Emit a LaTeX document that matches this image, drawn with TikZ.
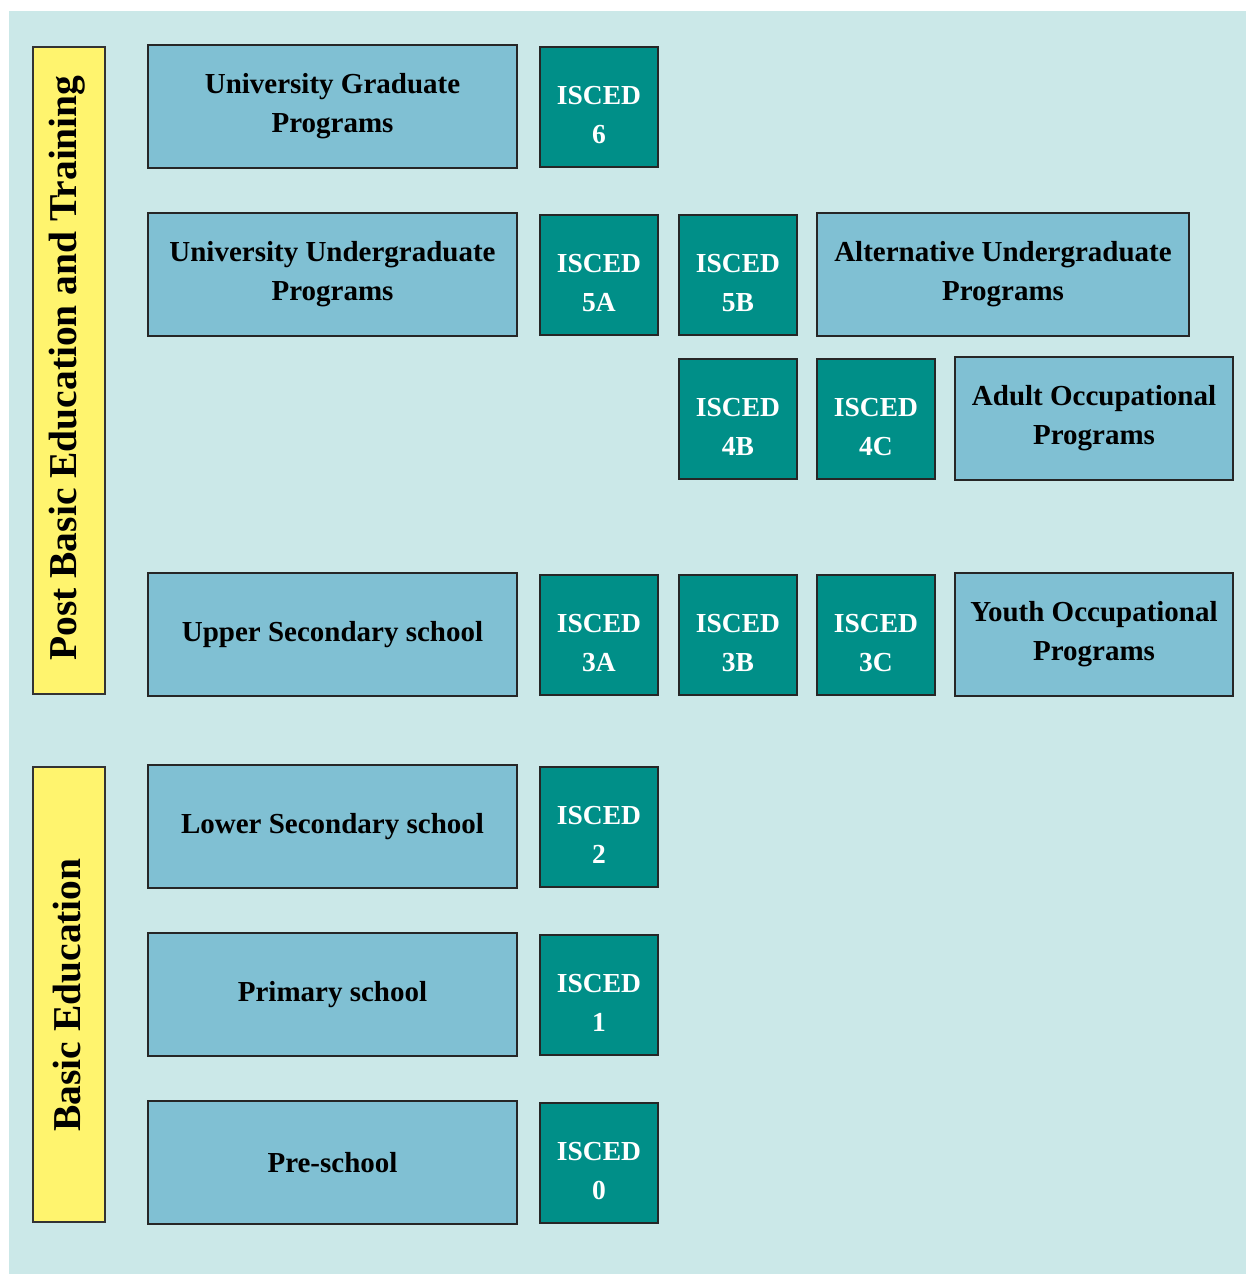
\documentclass[tikz,border=0pt]{standalone}
\usepackage{fontspec}
\setmainfont{Liberation Serif}
\begin{document}
\begin{tikzpicture}[x=1pt,y=-1pt,
  lbl/.style={draw=black!85,line width=1.2pt,fill=lblue,inner sep=0pt,align=center,
    font=\fontsize{29}{39}\selectfont\bfseries},
  isc/.style={draw=black!85,line width=1.2pt,fill=teal1,text=white,inner sep=0pt,align=center,
    text height=72pt,text depth=0pt,
    font=\fontsize{27.5}{39}\selectfont\bfseries},
  ybox/.style={draw=black!80,line width=1.2pt,fill=yel,inner sep=0pt},
  ytext/.style={rotate=90,font=\fontsize{39.5}{42}\selectfont\bfseries}]
\definecolor{bg}{HTML}{CBE8E8}
\definecolor{lblue}{HTML}{80C0D3}
\definecolor{teal1}{HTML}{008F88}
\definecolor{yel}{HTML}{FFF46E}
\useasboundingbox (0,0) rectangle (1246,1274);
\fill[bg] (9,11) rectangle (1246,1274);
% yellow side bars
\node[ybox,minimum width=72,minimum height=647] (post) at (69,370.5) {};
\node[ytext] (postt) at (67,368) {Post Basic Education and Training};
\node[ybox,minimum width=72,minimum height=455] (basic) at (69,994.5) {};
\node[ytext] (basict) at (67,995) {Basic Education};
% left labels
\node[lbl,minimum width=369,minimum height=123] (ugp) at (332.5,106.5) {University Graduate\\Programs};
\node[lbl,minimum width=369,minimum height=123] (uup) at (332.5,274.5) {University Undergraduate\\Programs};
\node[lbl,minimum width=369,minimum height=123] (uss) at (332.5,634.5) {Upper Secondary school};
\node[lbl,minimum width=369,minimum height=123] (lss) at (332.5,826.5) {Lower Secondary school};
\node[lbl,minimum width=369,minimum height=123] (prim) at (332.5,994.5) {Primary school};
\node[lbl,minimum width=369,minimum height=123] (pre) at (332.5,1162.5) {Pre-school};
% right labels
\node[lbl,minimum width=372,minimum height=123] (aup) at (1003,274.5) {Alternative Undergraduate\\Programs};
\node[lbl,minimum width=278,minimum height=123] (aop) at (1094,418.5) {Adult Occupational\\Programs};
\node[lbl,minimum width=278,minimum height=123] (yop) at (1094,634.5) {Youth Occupational\\Programs};
% ISCED boxes
\node[isc,minimum width=118,minimum height=120] (i6) at (599,107) {ISCED\\6};
\node[isc,minimum width=118,minimum height=120] (i5a) at (599,275) {ISCED\\5A};
\node[isc,minimum width=118,minimum height=120] (i5b) at (738,275) {ISCED\\5B};
\node[isc,minimum width=118,minimum height=120] (i4b) at (738,419) {ISCED\\4B};
\node[isc,minimum width=118,minimum height=120] (i4c) at (876,419) {ISCED\\4C};
\node[isc,minimum width=118,minimum height=120] (i3a) at (599,635) {ISCED\\3A};
\node[isc,minimum width=118,minimum height=120] (i3b) at (738,635) {ISCED\\3B};
\node[isc,minimum width=118,minimum height=120] (i3c) at (876,635) {ISCED\\3C};
\node[isc,minimum width=118,minimum height=120] (i2) at (599,827) {ISCED\\2};
\node[isc,minimum width=118,minimum height=120] (i1) at (599,995) {ISCED\\1};
\node[isc,minimum width=118,minimum height=120] (i0) at (599,1163) {ISCED\\0};
\end{tikzpicture}
\end{document}
